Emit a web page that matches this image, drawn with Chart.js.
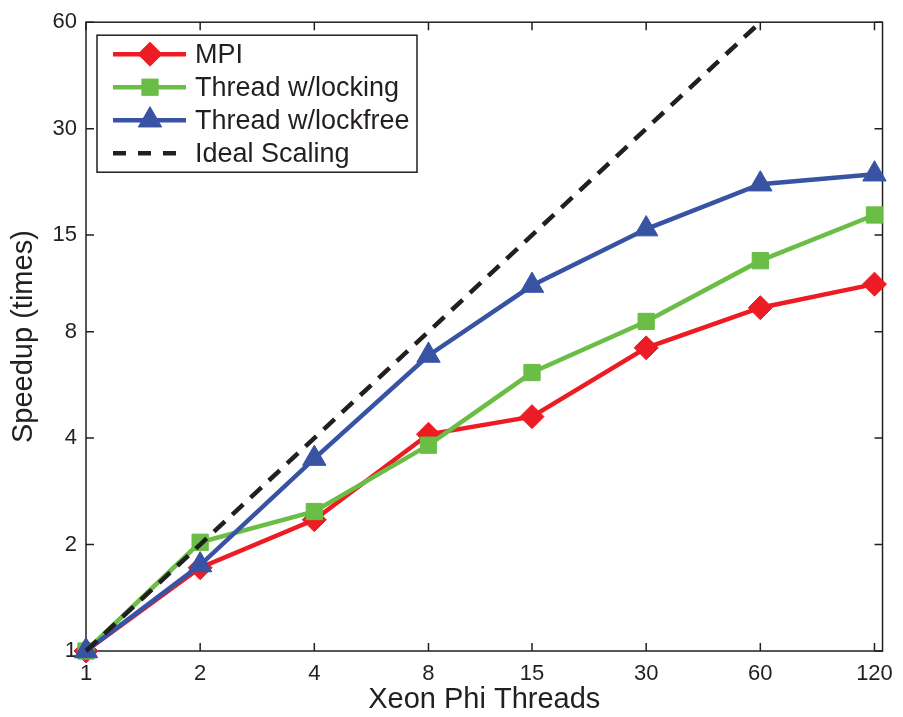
<!DOCTYPE html>
<html>
<head>
<meta charset="utf-8">
<title>Speedup on Xeon Phi</title>
<script src="https://cdn.jsdelivr.net/npm/chart.js@4.4.0/dist/chart.umd.min.js"></script>
<style>
  body { margin: 0; background: #fff; }
  canvas { display: block; }
</style>
</head>
<body>
<canvas id="speedup" width="903" height="717"></canvas>
<script>
// thread counts on the x axis and the speedup tick marks on the y axis
const threads = [1, 2, 4, 8, 15, 30, 60, 120];
const speedupTicks = [1, 2, 4, 8, 15, 30, 60];

// measured speedup per thread count
const mpi = [1, 1.72, 2.35, 4.1, 4.6, 7.2, 9.35, 10.9];
const threadLocking = [1, 2.03, 2.48, 3.82, 6.13, 8.55, 12.7, 17.1];
const threadLockfree = [1, 1.75, 3.5, 6.85, 10.8, 15.6, 20.9, 22.3];

// ideal linear scaling, stops where it leaves the plot
const idealThreads = [1, 2, 4, 8, 15, 30, 60];
const idealSpeedup = [1, 2, 4, 8, 15, 30, 60];

const ink = '#231f20';
const fontFamily = '"Liberation Sans", Arial, Helvetica, sans-serif';

Chart.defaults.font.family = fontFamily;
Chart.defaults.color = ink;

function points(xs, ys) {
  return xs.map((x, i) => ({ x: x, y: ys[i] }));
}

function series(label, xs, ys, color, style, radius, order) {
  return {
    label: label,
    data: points(xs, ys),
    borderColor: color,
    backgroundColor: color,
    borderWidth: 4.5,
    pointStyle: style,
    pointRadius: radius,
    pointHoverRadius: radius,
    pointBorderWidth: 1,
    pointBackgroundColor: color,
    pointBorderColor: color,
    tension: 0,
    clip: false,
    order: order
  };
}

const datasets = [
  series('MPI', threads, mpi, '#ed1c24', 'rectRot', 12, 4),
  series('Thread w/locking', threads, threadLocking, '#6abd45', 'rect', 11.5, 3),
  series('Thread w/lockfree', threads, threadLockfree, '#3953a4', 'triangle', 13.5, 2),
  {
    label: 'Ideal Scaling',
    data: points(idealThreads, idealSpeedup),
    borderColor: ink,
    borderWidth: 4.5,
    borderDash: [15, 10],
    pointRadius: 0,
    tension: 0,
    clip: false,
    order: 1
  }
];

// box round the plot with inward ticks on all four sides
const axesFrame = {
  id: 'axesFrame',
  beforeDatasetsDraw(chart) {
    const { ctx, chartArea: a, scales } = chart;
    const len = 8;
    ctx.save();
    ctx.strokeStyle = ink;
    ctx.lineWidth = 1.5;
    ctx.beginPath();
    threads.forEach(v => {
      const px = scales.x.getPixelForValue(v);
      ctx.moveTo(px, a.bottom); ctx.lineTo(px, a.bottom - len);
      ctx.moveTo(px, a.top); ctx.lineTo(px, a.top + len);
    });
    speedupTicks.forEach(v => {
      const py = scales.y.getPixelForValue(v);
      ctx.moveTo(a.left, py); ctx.lineTo(a.left + len, py);
      ctx.moveTo(a.right, py); ctx.lineTo(a.right - len, py);
    });
    ctx.stroke();
    ctx.strokeRect(a.left, a.top, a.right - a.left, a.bottom - a.top);
    ctx.restore();
  }
};

// legend with a line sample and marker for each series
const legendBox = {
  id: 'legendBox',
  afterDraw(chart) {
    const { ctx, chartArea: a } = chart;
    const x0 = a.left + 11, y0 = a.top + 13;
    const w = 320, h = 137, rowH = 33;
    ctx.save();
    ctx.fillStyle = '#fff';
    ctx.fillRect(x0, y0, w, h);
    ctx.strokeStyle = ink;
    ctx.lineWidth = 1.5;
    ctx.strokeRect(x0, y0, w, h);
    chart.data.datasets.forEach((ds, i) => {
      const y = y0 + 19 + i * rowH;
      ctx.save();
      ctx.strokeStyle = ds.borderColor;
      ctx.lineWidth = ds.borderWidth;
      ctx.setLineDash(ds.borderDash ? [13, 12] : []);
      ctx.beginPath();
      ctx.moveTo(x0 + 16, y);
      ctx.lineTo(x0 + 89, y);
      ctx.stroke();
      ctx.restore();
      if (ds.pointRadius > 0) {
        ctx.fillStyle = ds.pointBackgroundColor;
        ctx.strokeStyle = ds.pointBorderColor;
        ctx.lineWidth = 1;
        Chart.helpers.drawPoint(ctx, {
          pointStyle: ds.pointStyle,
          radius: ds.pointRadius,
          borderWidth: 1,
          rotation: 0
        }, x0 + 53, y);
      }
      ctx.fillStyle = ink;
      ctx.font = '27px ' + fontFamily;
      ctx.textAlign = 'left';
      ctx.textBaseline = 'middle';
      ctx.fillText(ds.label, x0 + 98, y + 1);
    });
    ctx.restore();
  }
};

new Chart(document.getElementById('speedup'), {
  type: 'line',
  data: { datasets: datasets },
  plugins: [axesFrame, legendBox],
  options: {
    responsive: false,
    animation: false,
    layout: { padding: { top: 19, right: 16, left: 0, bottom: 0 } },
    plugins: {
      legend: { display: false },
      tooltip: { enabled: false }
    },
    scales: {
      x: {
        type: 'logarithmic',
        min: 1,
        max: 126,
        afterBuildTicks: scale => { scale.ticks = threads.map(v => ({ value: v })); },
        afterFit: scale => { scale.height = 66; },
        grid: { display: false, drawTicks: false },
        border: { display: false },
        ticks: {
          autoSkip: false,
          maxRotation: 0,
          padding: 10,
          font: { size: 22 },
          callback: v => String(v)
        },
        title: {
          display: true,
          text: 'Xeon Phi Threads',
          font: { size: 29 },
          padding: { top: 0, bottom: 0 }
        }
      },
      y: {
        type: 'logarithmic',
        min: 1,
        max: 60,
        afterBuildTicks: scale => { scale.ticks = speedupTicks.map(v => ({ value: v })); },
        afterFit: scale => { scale.width = 86; },
        grid: { display: false, drawTicks: false },
        border: { display: false },
        ticks: {
          autoSkip: false,
          padding: 9,
          font: { size: 22 },
          callback: v => String(v)
        },
        title: {
          display: true,
          text: 'Speedup (times)',
          font: { size: 29 },
          padding: { top: 7, bottom: 0 }
        }
      }
    }
  }
});
</script>
</body>
</html>
